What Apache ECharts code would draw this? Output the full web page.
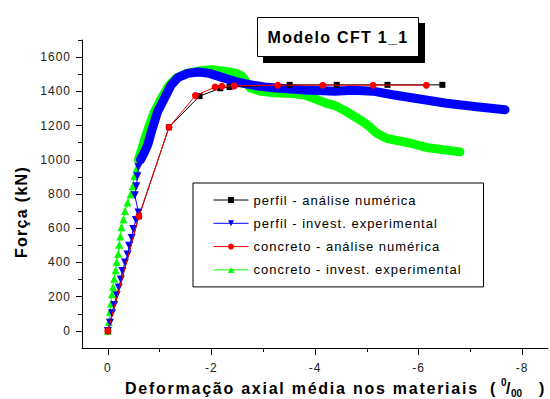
<!DOCTYPE html>
<html>
<head>
<meta charset="utf-8">
<script src="https://cdn.jsdelivr.net/npm/echarts@6/dist/echarts.min.js"></script>
<style>
  html, body { margin: 0; padding: 0; background: #fff; }
  #chart { width: 550px; height: 399px; }
</style>
</head>
<body>
<div id="chart"></div>
<script>
// Axis ticks and labels
const xLabelValues = [-8, -6, -4, -2, 0];
const xMinorValues = [-7, -5, -3, -1];
const yLabelValues = [0, 200, 400, 600, 800, 1000, 1200, 1400, 1600];
const yMinorValues = [100, 300, 500, 700, 900, 1100, 1300, 1500, 1700];

// Texts
const titleText = 'Modelo CFT 1_1';
const yTitle = 'Força (kN)';
const xTitle = 'Deformação axial média nos materiais';

// Series names (legend order)
const seriesNames = [
  'perfil - análise numérica',
  'perfil - invest. experimental',
  'concreto - análise numérica',
  'concreto - invest. experimental'
];

// Numerical analysis results: [deformation (‰), force (kN)]
const perfilNum = [[0, 0], [-0.6, 670], [-1.18, 1190], [-1.77, 1372], [-2.17, 1418], [-2.35, 1425],
  [-3.51, 1438], [-4.42, 1438], [-5.4, 1438], [-6.46, 1438]];
const concretoNum = [[0, 0], [-0.6, 670], [-1.18, 1190], [-1.69, 1375], [-2.07, 1425], [-2.2, 1430],
  [-2.44, 1432], [-3.28, 1436], [-4.15, 1436], [-5.12, 1436], [-6.15, 1436]];

// Experimental readings, steel profile: early readings then the dense part of the record
const perfilExpRise = [[0, 0], [-0.04, 48], [-0.08, 103], [-0.12, 151], [-0.17, 209], [-0.21, 253],
  [-0.25, 300], [-0.28, 350], [-0.33, 400], [-0.38, 446], [-0.41, 497], [-0.46, 543], [-0.49, 595],
  [-0.54, 648], [-0.59, 692], [-0.52, 792], [-0.55, 846], [-0.57, 904], [-0.59, 956], [-0.63, 1000]];
const perfilExpDense = [[-0.63, 1000], [-0.7, 1040], [-0.77, 1088], [-0.86, 1184], [-0.96, 1281],
  [-1.09, 1358], [-1.22, 1436], [-1.35, 1480], [-1.54, 1505], [-1.75, 1513], [-1.96, 1505],
  [-2.22, 1480], [-2.45, 1458], [-2.64, 1445], [-2.8, 1436], [-3.02, 1426], [-3.25, 1420],
  [-3.54, 1413], [-3.8, 1408], [-4.05, 1405], [-4.38, 1400], [-4.73, 1407], [-5.12, 1401],
  [-5.5, 1380], [-6.02, 1355], [-6.54, 1330], [-7.12, 1310], [-7.67, 1292]];

// Experimental readings, concrete core
const concretoExpRise = [[0, 0], [-0.02, 54], [-0.04, 112], [-0.06, 160], [-0.08, 214], [-0.1, 257],
  [-0.12, 305], [-0.15, 354], [-0.17, 402], [-0.2, 450], [-0.22, 504], [-0.24, 551], [-0.26, 605],
  [-0.3, 653], [-0.33, 701], [-0.38, 750], [-0.44, 798], [-0.48, 846], [-0.51, 904], [-0.55, 947],
  [-0.59, 1001]];
const concretoExpDense = [[-0.59, 1001], [-0.68, 1088], [-0.78, 1184], [-0.9, 1281], [-1.03, 1358],
  [-1.17, 1430], [-1.32, 1478], [-1.52, 1505], [-1.8, 1520], [-2.0, 1527], [-2.25, 1518],
  [-2.45, 1508], [-2.58, 1490], [-2.66, 1460], [-2.75, 1420], [-2.96, 1400], [-3.22, 1392],
  [-3.54, 1388], [-3.8, 1378], [-4.05, 1350], [-4.22, 1330], [-4.38, 1318], [-4.6, 1283],
  [-4.86, 1235], [-5.05, 1195], [-5.18, 1158], [-5.38, 1125], [-5.83, 1098], [-6.15, 1072],
  [-6.5, 1058], [-6.8, 1046]];

const FONT = '"Liberation Sans", Arial, sans-serif';
const chart = echarts.init(document.getElementById('chart'), null, { renderer: 'svg' });

const xRange = { min: -8.5, max: 0.5 };
const yRange = { min: -100, max: 1700 };

function markerSeries(name, data, color, symbol, size, rotate, z) {
  return {
    name: name, type: 'line', data: data, z: z,
    xAxisIndex: 0, yAxisIndex: 0,
    symbol: symbol, symbolSize: size, symbolRotate: rotate,
    showAllSymbol: true, animation: false,
    lineStyle: { color: color, width: 1 },
    itemStyle: { color: color, borderWidth: 0 }
  };
}
function bandSeries(name, data, color, z) {
  return {
    name: name, type: 'line', data: data, z: z,
    xAxisIndex: 0, yAxisIndex: 0,
    symbol: 'none', animation: false, silent: true,
    lineStyle: { color: color, width: 9, cap: 'round', join: 'round' }
  };
}
const plainNumber = v => String(v);

const option = {
  animation: false,
  backgroundColor: '#fff',
  textStyle: { fontFamily: FONT },
  grid: { left: 82, top: 40, width: 466, height: 308, containLabel: false },
  legend: {
    data: seriesNames,
    orient: 'vertical',
    left: 193, top: 183,
    padding: [10, 53, 10, 20],
    itemWidth: 35, itemHeight: 7.5, itemGap: 9.3,
    borderColor: '#000', borderWidth: 1,
    backgroundColor: '#fff',
    selectedMode: false,
    lineStyle: { width: 1 },
    textStyle: { fontSize: 13, lineHeight: 14, color: '#000', fontFamily: FONT }
  },
  xAxis: [
    {
      type: 'value', inverse: true, min: xRange.min, max: xRange.max,
      axisLine: { show: true, onZero: false, lineStyle: { color: '#000', width: 1 } },
      axisTick: { show: true, inside: false, length: 7, customValues: xLabelValues, lineStyle: { color: '#000' } },
      axisLabel: { show: true, customValues: xLabelValues, formatter: plainNumber, margin: 14, fontSize: 12, color: '#222', fontFamily: FONT },
      splitLine: { show: false }
    },
    {
      type: 'value', inverse: true, min: xRange.min, max: xRange.max, position: 'bottom',
      axisLine: { show: false, onZero: false },
      axisTick: { show: true, inside: false, length: 4, customValues: xMinorValues, lineStyle: { color: '#000' } },
      axisLabel: { show: false },
      splitLine: { show: false }
    }
  ],
  yAxis: [
    {
      type: 'value', min: yRange.min, max: yRange.max,
      axisLine: { show: true, onZero: false, lineStyle: { color: '#000', width: 1 } },
      axisTick: { show: true, inside: false, length: 6, customValues: yLabelValues, lineStyle: { color: '#000' } },
      axisLabel: { show: true, customValues: yLabelValues, formatter: plainNumber, margin: 11, fontSize: 12, color: '#222', fontFamily: FONT },
      splitLine: { show: false }
    },
    {
      type: 'value', min: yRange.min, max: yRange.max, position: 'left',
      axisLine: { show: false, onZero: false },
      axisTick: { show: true, inside: false, length: 4, customValues: yMinorValues, lineStyle: { color: '#000' } },
      axisLabel: { show: false },
      splitLine: { show: false }
    }
  ],
  series: [
    bandSeries('concretoDense', concretoExpDense, '#00ff00', 2),
    markerSeries(seriesNames[3], concretoExpRise, '#00ff00', 'triangle', 8, 0, 2),
    bandSeries('perfilDense', perfilExpDense, '#0000ff', 3),
    markerSeries(seriesNames[1], perfilExpRise, '#0000ff', 'triangle', 8, 180, 3),
    markerSeries(seriesNames[0], perfilNum, '#000000', 'rect', 6, 0, 4),
    markerSeries(seriesNames[2], concretoNum, '#ff0000', 'circle', 7, 0, 5)
  ],
  graphic: [
    // Title box with drop shadow
    { type: 'rect', z: 10, shape: { x: 263, y: 23, width: 162, height: 40 }, style: { fill: '#000' } },
    { type: 'rect', z: 11, shape: { x: 257.5, y: 17.5, width: 161, height: 39 }, style: { fill: '#fff', stroke: '#000', lineWidth: 1 } },
    { type: 'text', z: 12, x: 338, y: 37,
      style: { text: titleText, font: 'bold 16px ' + FONT, fill: '#000', align: 'center', verticalAlign: 'middle' } },
    // Axis titles
    { type: 'text', z: 12, x: 21, y: 212, rotation: Math.PI / 2,
      style: { text: yTitle, font: 'bold 16px ' + FONT, fill: '#000', align: 'center', verticalAlign: 'middle' } },
    { type: 'text', z: 12, x: 125, y: 388,
      style: { text: xTitle, font: 'bold 16px ' + FONT, fill: '#000', align: 'left', verticalAlign: 'middle' } },
    // Unit: per mille written as ( 0/00 )
    { type: 'text', z: 12, x: 490, y: 388,
      style: { text: '(', font: 'bold 16px ' + FONT, fill: '#000', align: 'left', verticalAlign: 'middle' } },
    { type: 'text', z: 12, x: 501, y: 382,
      style: { text: '0', font: 'bold 10px ' + FONT, fill: '#000', align: 'left', verticalAlign: 'middle' } },
    { type: 'text', z: 12, x: 506, y: 388,
      style: { text: '/', font: 'bold 16px ' + FONT, fill: '#000', align: 'left', verticalAlign: 'middle' } },
    { type: 'text', z: 12, x: 511, y: 393,
      style: { text: '00', font: 'bold 10px ' + FONT, fill: '#000', align: 'left', verticalAlign: 'middle' } },
    { type: 'text', z: 12, x: 539, y: 388,
      style: { text: ')', font: 'bold 16px ' + FONT, fill: '#000', align: 'left', verticalAlign: 'middle' } }
  ]
};

chart.setOption(option);

// Tracking between glyphs: bold titles are spread wider than the small labels
function applyLetterSpacing() {
  document.querySelectorAll('#chart svg text').forEach(function (t) {
    const s = t.textContent;
    let px = 1;
    if (s === xTitle) px = 1.75;
    else if (s === titleText || s === yTitle) px = 1.3;
    else if (s.length <= 2 && /[()\/0]/.test(s) && t.getAttribute('style') && /bold/.test(t.getAttribute('style'))) px = 0;
    t.setAttribute('letter-spacing', px + 'px');
  });
}
applyLetterSpacing();
chart.on('finished', applyLetterSpacing);
</script>
</body>
</html>
